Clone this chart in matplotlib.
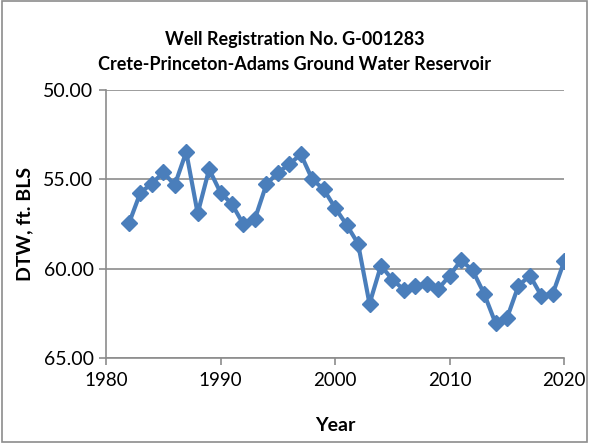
import matplotlib
matplotlib.use("Agg")
import matplotlib.pyplot as plt
from matplotlib.patches import Rectangle

years = list(range(1982, 2021))
dtw = [57.47, 55.75, 55.24, 54.62, 55.32, 53.47, 56.91, 54.44, 55.75, 56.40,
       57.53, 57.21, 55.28, 54.63, 54.16, 53.60, 55.00, 55.56, 56.60, 57.55,
       58.60, 61.97, 59.83, 60.62, 61.18, 60.96, 60.84, 61.14, 60.39, 59.53,
       60.10, 61.40, 63.05, 62.77, 60.96, 60.39, 61.52, 61.40, 59.58]
yticks = [50, 55, 60, 65]
xticks = [1980, 1990, 2000, 2010, 2020]

plt.rcParams['font.family'] = ['Lato', 'DejaVu Sans']

fig = plt.figure(figsize=(5.89, 4.43), dpi=100)
ax = fig.add_axes([0.180, 0.192, 0.778, 0.605])

ax.plot(years, dtw, color='#4a7ebb', lw=3, marker='D', markersize=8.5,
        markerfacecolor='#4a7ebb', markeredgecolor='#4a7ebb')

ax.set_xlim(1980, 2020)
ax.set_ylim(65, 50)
ax.set_yticks(yticks)
ax.set_yticklabels(['%.2f' % v for v in yticks], fontsize=14)
ax.set_xticks(xticks)
ax.set_xticklabels([str(v) for v in xticks], fontsize=13.5)
ax.yaxis.grid(True, color='#8c8c8c', lw=1.2)
ax.set_axisbelow(True)
for s in ['top', 'right']:
    ax.spines[s].set_visible(False)
for s in ['left', 'bottom']:
    ax.spines[s].set_color('#8c8c8c')
    ax.spines[s].set_linewidth(1.2)
ax.tick_params(axis='both', color='#8c8c8c', width=1.2, length=5)
ax.tick_params(axis='x', pad=5)
ax.tick_params(axis='y', pad=4)

ax.set_xlabel('Year', fontsize=14, fontweight='bold', labelpad=20)
ax.set_ylabel('DTW, ft. BLS', fontsize=14, fontweight='bold', labelpad=7)

fig.text(0.5, 0.91, 'Well Registration No. G-001283', ha='center', va='center',
         fontsize=13, fontweight='bold')
fig.text(0.5, 0.855, 'Crete-Princeton-Adams Ground Water Reservoir', ha='center',
         va='center', fontsize=13, fontweight='bold')

fig.patches.append(Rectangle((0.003, 0.003), 0.994, 0.994, transform=fig.transFigure,
                             fill=False, edgecolor='#8c8c8c', lw=1.2))

fig.savefig('out.png', dpi=100)
